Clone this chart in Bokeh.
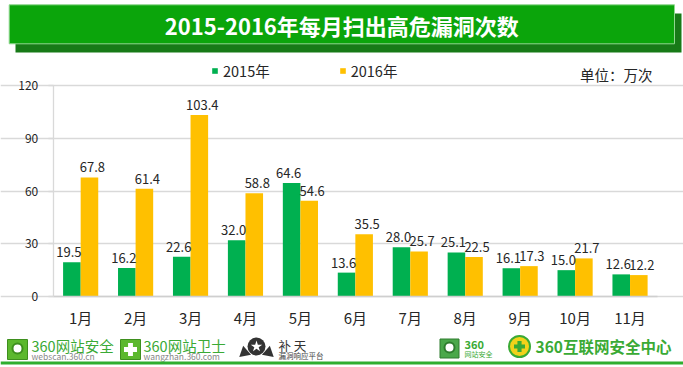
from bokeh.plotting import figure
from bokeh.models import (ColumnDataSource, Range1d, FixedTicker, LinearAxis, Grid,
                          Legend, LegendItem)
from bokeh.transform import dodge
from bokeh.core.properties import value
from bokeh.embed import file_html
from bokeh.resources import INLINE

# ---------------- data ----------------
months = ["1月", "2月", "3月", "4月", "5月", "6月", "7月", "8月", "9月", "10月", "11月"]
v2015 = [19.5, 16.2, 22.6, 32.0, 64.6, 13.6, 28.0, 25.1, 16.1, 15.0, 12.6]
v2016 = [67.8, 61.4, 103.4, 58.8, 54.6, 35.5, 25.7, 22.5, 17.3, 21.7, 12.2]
y_ticks = [0, 30, 60, 90, 120]
series_names = ["2015年", "2016年"]
title_text = "2015-2016年每月扫出高危漏洞次数"
unit_text = "单位：万次"

# ---------------- layout helpers (canvas px -> data) ----------------
W, H = 683, 367
F_LEFT, F_RIGHT = 52.7, 657.0
Y0_PX, Y120_PX = 296.0, 85.3
N = len(months)
PPX = (F_RIGHT - F_LEFT) / N
PPY = (Y0_PX - Y120_PX) / 120.0
def X(px): return (px - F_LEFT) / PPX - 0.5
def Y(py): return (Y0_PX - py) / PPY

FONT = "Noto Sans CJK SC"
GREEN = "#00B050"
YELLOW = "#FFC000"
GRID = "#d9d9d9"
TXT = "#262626"

p = figure(width=W, height=H, x_range=Range1d(X(0), X(W)),
           y_range=Range1d(Y(H), Y(0)), x_axis_type=None, y_axis_type=None,
           output_backend="svg", toolbar_location=None, min_border=0)
p.outline_line_color = None
p.background_fill_color = "white"
p.border_fill_color = "white"
p.grid.visible = False

# ---------------- title banner ----------------
p.quad(left=X(15), right=X(681), top=Y(13), bottom=Y(52),
       fill_color="#177a17", line_color=None)
p.quad(left=X(8.7), right=X(674), top=Y(4.3), bottom=Y(43.3),
       fill_color="#0ba50b", line_color="#8fd88f", line_width=1)
p.text(x=[X((8.7 + 674) / 2)], y=[Y(24)], text=[title_text],
       text_align="center", text_baseline="middle", text_color="white",
       text_font=value(FONT), text_font_size="22px", text_font_style="bold")

# ---------------- grid & axes ----------------
grid = Grid(dimension=1, ticker=FixedTicker(ticks=y_ticks), bounds=(-0.5, N - 0.5),
            grid_line_color=GRID, grid_line_width=1.3)
p.add_layout(grid)

yax = LinearAxis(fixed_location=-0.5, bounds=(0, 120),
                 ticker=FixedTicker(ticks=y_ticks), minor_tick_line_color=None,
                 axis_line_color=GRID, axis_line_width=1.3,
                 major_tick_line_color=GRID, major_tick_line_width=1.3,
                 major_tick_out=5, major_tick_in=0, major_label_standoff=10,
                 major_label_text_font=FONT, major_label_text_font_size="12px",
                 major_label_text_color=TXT)
p.add_layout(yax, "left")

xax = LinearAxis(fixed_location=0, bounds=(-0.5, N - 0.5),
                 ticker=FixedTicker(ticks=list(range(N))),
                 major_label_overrides={i: m for i, m in enumerate(months)},
                 minor_tick_line_color=None, major_tick_line_color=None,
                 axis_line_color="#cfcfcf", axis_line_width=1.5,
                 major_label_standoff=4, major_label_text_font=FONT,
                 major_label_text_font_size="15px", major_label_text_color=TXT)
p.add_layout(xax, "below")

# ---------------- bars & labels ----------------
src = ColumnDataSource(dict(
    xi=list(range(N)), a=v2015, b=v2016,
    ta=["%.1f" % v for v in v2015], tb=["%.1f" % v for v in v2016]))

bw = 0.32
r1 = p.vbar(x=dodge("xi", -bw / 2), top="a", width=bw, source=src,
            fill_color=GREEN, line_color=None)
r2 = p.vbar(x=dodge("xi", bw / 2), top="b", width=bw, source=src,
            fill_color=YELLOW, line_color=None)
p.text(x=dodge("xi", -bw / 2), y="a", text="ta", source=src,
       text_align="center", text_baseline="bottom", x_offset=-3, y_offset=-5,
       text_font=value(FONT), text_font_size="13px", text_color=TXT)
p.text(x=dodge("xi", bw / 2), y="b", text="tb", source=src,
       text_align="center", text_baseline="bottom", x_offset=3, y_offset=-5,
       text_font=value(FONT), text_font_size="13px", text_color=TXT)

# ---------------- legend & unit ----------------
LEG_H = 16
legend = Legend(items=[LegendItem(label=series_names[0], renderers=[r1]),
                       LegendItem(label=series_names[1], renderers=[r2])],
                orientation="horizontal",
                location=(211, H - (72.5 + LEG_H / 2)),
                glyph_width=7, glyph_height=7, label_height=LEG_H,
                label_standoff=5, spacing=69, padding=0, margin=0,
                border_line_color=None, background_fill_alpha=0,
                label_text_font=FONT, label_text_font_size="14.5px",
                label_text_color=TXT, label_text_baseline="middle")
p.add_layout(legend, "center")

p.text(x=[X(652)], y=[Y(74)], text=[unit_text], text_align="right",
       text_baseline="middle", text_color=TXT, text_font=value(FONT),
       text_font_size="14.5px")

# ---------------- footer logos ----------------
LG = "#3aaa35"
def txt(rx, ry, s, size, color, font=FONT, style="normal", align="left"):
    p.text(x=[X(rx)], y=[Y(ry)], text=[s], text_align=align, text_baseline="middle",
           text_color=color, text_font=value(font), text_font_size=size,
           text_font_style=style)

# webscan shield
p.scatter(x=[X(17)], y=[Y(349)], marker="square", size=20,
          fill_color="#5cb82e", line_color="#3e8f1e")
p.scatter(x=[X(17)], y=[Y(348)], marker="circle", size=10,
          fill_color="white", line_color="#3e8f1e", line_width=2)
txt(31, 345, "360网站安全", "14.5px", LG)
txt(31, 355.5, "webscan.360.cn", "8.5px", "#888888")
# wangzhan shield
p.scatter(x=[X(130)], y=[Y(349)], marker="square", size=20,
          fill_color="#5cb82e", line_color="#3e8f1e")
p.scatter(x=[X(130)], y=[Y(349)], marker="plus", size=13,
          fill_color="white", line_color=None)
txt(143, 345, "360网站卫士", "14.5px", LG)
txt(143, 355.5, "wangzhan.360.com", "8.5px", "#888888")
# butian
p.scatter(x=[X(244), X(268)], y=[Y(352), Y(352)], marker="triangle", size=12,
          angle=[-1.9, 1.9], fill_color="#333333", line_color=None)
p.scatter(x=[X(256)], y=[Y(346)], marker="circle", size=18,
          fill_color="#333333", line_color=None)
p.scatter(x=[X(256)], y=[Y(346)], marker="star", size=12,
          fill_color="white", line_color=None)
txt(278, 344.5, "补 天", "12.5px", "#333333")
txt(278, 354.5, "漏洞响应平台", "7.5px", "#444444")
# right shield
p.scatter(x=[X(449)], y=[Y(348)], marker="square", size=19,
          fill_color="#4aa84a", line_color="#2e7d2e")
p.scatter(x=[X(449)], y=[Y(347)], marker="circle", size=10,
          fill_color="white", line_color="#2e7d2e", line_width=2)
txt(464, 344, "360", "11px", LG, style="bold")
txt(464, 353.5, "网站安全", "7px", LG)
# security center
p.scatter(x=[X(519)], y=[Y(346)], marker="circle", size=21,
          fill_color="#f2d21a", line_color=LG, line_width=2)
p.scatter(x=[X(519)], y=[Y(346)], marker="plus", size=11,
          fill_color=LG, line_color=None)
txt(535, 345.5, "360互联网安全中心", "15.5px", LG, style="bold")
# bottom line
p.quad(left=X(0), right=X(W), top=Y(361), bottom=Y(364),
       fill_color="#2fae2f", line_color=None)

open("out.html", "w").write(file_html(p, INLINE))
